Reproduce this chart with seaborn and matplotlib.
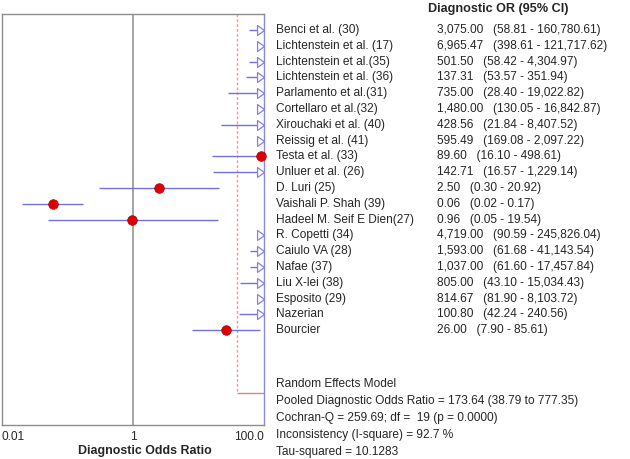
import numpy as np
import pandas as pd
import matplotlib
matplotlib.use("Agg")
import matplotlib.pyplot as plt
import matplotlib.transforms as mtransforms
from matplotlib.path import Path
import seaborn as sns

studies = ["Benci et al. (30)", "Lichtenstein et al. (17)", "Lichtenstein et al.(35)",
           "Lichtenstein et al. (36)", "Parlamento et al.(31)", "Cortellaro et al.(32)",
           "Xirouchaki et al. (40)", "Reissig et al. (41)", "Testa et al. (33)",
           "Unluer et al. (26)", "D. Luri (25)", "Vaishali P. Shah (39)",
           "Hadeel M. Seif E Dien(27)", "R. Copetti (34)", "Caiulo VA (28)",
           "Nafae (37)", "Liu X-lei (38)", "Esposito (29)", "Nazerian", "Bourcier"]
dor = [3075.00, 6965.47, 501.50, 137.31, 735.00, 1480.00, 428.56, 595.49, 89.60,
       142.71, 2.50, 0.06, 0.96, 4719.00, 1593.00, 1037.00, 805.00, 814.67, 100.80, 26.00]
ci_low = [58.81, 398.61, 58.42, 53.57, 28.40, 130.05, 21.84, 169.08, 16.10, 16.57,
          0.30, 0.02, 0.05, 90.59, 61.68, 61.60, 43.10, 81.90, 42.24, 7.90]
ci_high = [160780.61, 121717.62, 4304.97, 351.94, 19022.82, 16842.87, 8407.52, 2097.22,
           498.61, 1229.14, 20.92, 0.17, 19.54, 245826.04, 41143.54, 17457.84, 15034.43,
           8103.72, 240.56, 85.61]
pooled = [173.64, 38.79, 777.35]
summary_lines = ["Random Effects Model",
                 "Pooled Diagnostic Odds Ratio = 173.64 (38.79 to 777.35)",
                 "Cochran-Q = 259.69; df =  19 (p = 0.0000)",
                 "Inconsistency (I-square) = 92.7 %",
                 "Tau-squared = 10.1283"]
xticks = [0.01, 1, 100]
xticklabels = ["0.01", "1", "100.0"]

W, H = 630, 459
sns.set_style("white")
plt.rcParams['font.family'] = ['Liberation Sans', 'DejaVu Sans']
FS = 8.6

fig = plt.figure(figsize=(W / 100, H / 100), dpi=100)
ax = fig.add_axes([2 / W, 1 - 425 / H, (264 - 2) / W, (425 - 14) / H])

XMIN, XMAX = 0.01, 100
ax.set_xscale("log")
ax.set_xlim(XMIN, XMAX)
ax.set_ylim(25.0, -1.01)

df = pd.DataFrame({"study": studies, "dor": dor, "lo": ci_low, "hi": ci_high})
df["row"] = np.arange(len(df))

line_col = "#7272dc"
# reference line at 1
ax.axvline(1, color="#8c8c8c", lw=1.1, zorder=1)

# pooled markers
pooled_row = 23
ax.vlines(pooled[1], -1.01, pooled_row, color="#ee9a9a", lw=1.0, linestyles=(0, (2, 1.5)), zorder=1)
ax.hlines(pooled_row, pooled[1], XMAX, color="#d88a80", lw=1.0, zorder=1)

# CI lines (clipped to axis range)
for _, r in df.iterrows():
    lo = max(r["lo"], XMIN)
    hi = min(r["hi"], XMAX)
    if lo < hi:
        ax.hlines(r["row"], lo, hi, color=line_col, lw=1.0, zorder=2)

# arrows for off-scale estimates
arrow = Path([(-1.4, -1.0), (0, 0), (-1.4, 1.0), (-1.4, -1.0)],
             [Path.MOVETO, Path.LINETO, Path.LINETO, Path.CLOSEPOLY])
off = df[df["dor"] > XMAX]
ax.plot([XMAX] * len(off), off["row"], linestyle="none", marker=arrow, markersize=10,
        markerfacecolor="white", markeredgecolor="#8282e2", markeredgewidth=0.9,
        clip_on=False, zorder=3)

# points in range
inr = df[(df["dor"] >= XMIN) & (df["dor"] <= XMAX)]
sns.scatterplot(data=inr, x="dor", y="row", ax=ax, color="#dc0000", edgecolor="#b00000",
                s=48, linewidth=0.5, zorder=4, clip_on=False, legend=False)

ax.set_xticks(xticks)
ax.set_xticklabels(xticklabels, fontsize=FS)
ax.minorticks_off()
ax.tick_params(axis="x", length=0, pad=4)
ax.set_yticks([])
labs = ax.get_xticklabels()
labs[0].set_ha("left")
labs[-1].set_ha("right")
ax.set_xlabel("")
ax.set_ylabel("")

for side in ["left", "top", "bottom"]:
    ax.spines[side].set_color("#8c8c8c")
    ax.spines[side].set_linewidth(1.0)
ax.spines["right"].set_color("#8a8ad8")
ax.spines["right"].set_linewidth(1.0)

fig.text(145 / W, 1 - 451 / H, "Diagnostic Odds Ratio", ha="center", va="center",
         fontsize=FS + 0.3, fontweight="bold")

# right-hand text table
trans = mtransforms.blended_transform_factory(fig.transFigure, ax.transData)
fig.text(498 / W, 1 - 9 / H, "Diagnostic OR (95% CI)", ha="center", va="center",
         fontsize=FS + 0.5, fontweight="bold")
for _, r in df.iterrows():
    ax.text(276 / W, r["row"], r["study"], transform=trans, ha="left", va="center",
            fontsize=FS, clip_on=False)
    ax.text(437 / W, r["row"], f"{r['dor']:,.2f}   ({r['lo']:,.2f} - {r['hi']:,.2f})",
            transform=trans, ha="left", va="center", fontsize=FS, clip_on=False)

for i, s in enumerate(summary_lines):
    fig.text(276 / W, 1 - (384 + i * 17) / H, s, ha="left", va="center", fontsize=FS)

fig.savefig("out.png", dpi=100)
